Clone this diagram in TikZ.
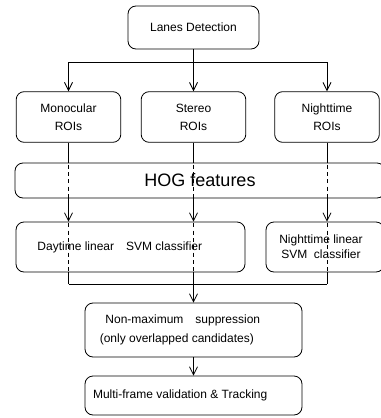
\documentclass[tikz,border=0pt]{standalone}
\usepackage{fontspec}
\setmainfont{Liberation Sans}
\usetikzlibrary{arrows.meta}

\begin{document}
\begin{tikzpicture}[x=0.75pt, y=-0.75pt,
	box/.style={draw, rounded corners=6pt, line width=0.6pt, align=center, inner sep=0pt, font=\fontsize{9}{13.5}\selectfont},
	arr/.style={-{Straight Barb[length=6pt, width=6pt]}, line width=0.6pt},
	link/.style={line width=0.6pt},
	guide/.style={line width=0.6pt, dash pattern=on 3pt off 2.5pt}]

	\clip (0,0) rectangle (381,418);

	% top stage
	\node[box, minimum width=98.25pt, minimum height=32.25pt] (lanes) at (193.5,27.5) {Lanes Detection};

	% three kinds of ROIs
	\foreach \name/\x/\txt in {mono/68.5/Monocular, stereo/193.5/Stereo, night/327/Nighttime} {
		\node[box, minimum width=78.5pt, minimum height=38pt] (\name) at (\x,117) {\txt\\ROIs};
	}

	% shared feature box, runs out on the right
	\node[box, minimum width=277.5pt, minimum height=26.25pt, font=\fontsize{13.5}{16}\selectfont] (hog) at (200,180.5) {HOG features};

	% classifiers
	\node[box, minimum width=171.75pt, minimum height=37.5pt] (day) at (130.5,247) {Daytime linear\quad SVM classifier\hspace*{16pt}};
	\node[box, minimum width=88.5pt, minimum height=37.5pt, font=\fontsize{9}{11.5}\selectfont] (nightsvm) at (325,247) {Nighttime linear\hspace*{6pt}\\SVM\ \ classifier\hspace*{6pt}};

	% final stages
	\node[box, minimum width=162.75pt, minimum height=40.5pt, font=\fontsize{9}{14}\selectfont] (nms) at (193.5,330) {Non-maximum\quad suppression\hspace*{16pt}\\(only overlapped candidates)\hspace*{25pt}};
	\node[box, minimum width=162.75pt, minimum height=29.25pt] (track) at (193.5,395.5) {Multi-frame validation \& Tracking\hspace*{20pt}};

	% split below the lanes box
	\coordinate (split) at (193.5,62);
	\draw[link] (lanes.south) -- (split);
	\draw[link] (split -| mono.south) -- (split -| night.south);
	\foreach \name in {mono, stereo, night} {
		\draw[arr] (split -| \name.south) -- (\name.north);
	}

	% ROI columns through HOG into the classifiers
	\foreach \name/\cls in {mono/day, stereo/day, night/nightsvm} {
		\draw[guide] (\name.south) -- (\name.south |- \cls.south);
		\draw[link] (\name.south) -- (\name.south |- hog.north);
		\draw[arr] (\name.south |- hog.south) -- (\name.south |- \cls.north);
	}

	% merge into suppression
	\coordinate (merge) at (193.5,284);
	\foreach \name/\cls in {mono/day, stereo/day, night/nightsvm} {
		\draw[link] (\name.south |- \cls.south) -- (\name.south |- merge);
	}
	\draw[link] (mono.south |- merge) -- (night.south |- merge);
	\draw[arr] (merge) -- (nms.north);
	\draw[arr] (nms.south) -- (track.north);

\end{tikzpicture}
\end{document}
